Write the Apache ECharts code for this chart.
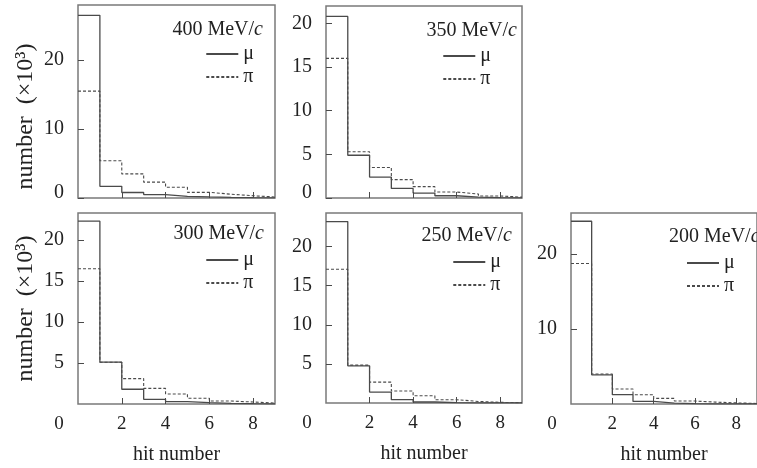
<!DOCTYPE html>
<html>
<head>
<meta charset="utf-8">
<script src="https://cdn.jsdelivr.net/npm/echarts@6/dist/echarts.min.js"></script>
<style>
  html, body { margin: 0; padding: 0; background: #fff; }
  #chart { width: 757px; height: 468px; }
</style>
</head>
<body>
<div id="chart"></div>
<script>
// counts (x10^3) per hit-number bin 0..8
const momenta = ["400", "350", "300", "250", "200"];
const mu400 = [26.5, 1.7, 0.8, 0.5, 0.25, 0.15, 0.08, 0.04, 0.02];
const pi400 = [15.5, 5.4, 3.5, 2.3, 1.55, 0.82, 0.55, 0.33, 0.15];
const mu350 = [20.8, 4.9, 2.4, 1.1, 0.57, 0.26, 0.11, 0.05, 0.02];
const pi350 = [16.0, 5.3, 3.5, 2.1, 1.3, 0.68, 0.46, 0.23, 0.1];
const mu300 = [22.3, 5.1, 1.8, 0.57, 0.28, 0.16, 0.08, 0.04, 0.02];
const pi300 = [16.5, 5.1, 3.1, 1.9, 1.22, 0.7, 0.37, 0.24, 0.12];
const mu250 = [23.2, 4.75, 1.4, 0.42, 0.13, 0.05, 0.02, 0.01, 0.01];
const pi250 = [17.1, 4.85, 2.67, 1.53, 0.93, 0.42, 0.2, 0.08, 0.04];
const mu200 = [24.4, 3.9, 1.24, 0.35, 0.13, 0.05, 0.03, 0.01, 0.01];
const pi200 = [18.75, 4.0, 2.0, 1.24, 0.75, 0.4, 0.25, 0.15, 0.07];

const xTicks = [2, 4, 6, 8];
const xLabels = [0, 2, 4, 6, 8];
const yTicks400 = [0, 10, 20];
const yTicks350 = [0, 5, 10, 15, 20];
const yTicks300 = [5, 10, 15, 20];
const yTicks250 = [5, 10, 15, 20];
const yTicks200 = [10, 20];

const FONT = "Liberation Serif";
const INK = "#222";
const LINE = "#4a4a4a";
const FRAME = "#7a7a7a";

// layout of each panel (px)
const panels = [
  { mu: mu400, pi: pi400, yTicks: yTicks400, yMax: 28, box: [78, 5, 197, 193], bottom: false, yName: true,
    title: { right: 489, top: 15 }, legend: { right: 503, top: 44 } },
  { mu: mu350, pi: pi350, yTicks: yTicks350, yMax: 22, box: [326, 6, 196, 192], bottom: false, yName: false,
    title: { right: 235, top: 16 }, legend: { right: 266, top: 46 } },
  { mu: mu300, pi: pi300, yTicks: yTicks300, yMax: 23.3, box: [78, 213, 197, 191], bottom: true, yName: true,
    title: { right: 488, top: 219 }, legend: { right: 503, top: 250 } },
  { mu: mu250, pi: pi250, yTicks: yTicks250, yMax: 24.3, box: [326, 213, 196, 190], bottom: true, yName: false,
    title: { right: 240, top: 221 }, legend: { right: 256, top: 252 } },
  { mu: mu200, pi: pi200, yTicks: yTicks200, yMax: 25.5, box: [571, 213, 198, 191], bottom: true, yName: false,
    title: { left: 664, top: 222 }, legend: { left: 686, top: 253 } }
];

function steps(vals) {
  const pts = vals.map((v, i) => [i, v]);
  pts.push([vals.length, vals[vals.length - 1]]);
  return pts;
}

const grid = [], xAxis = [], yAxis = [], series = [], title = [], legend = [];

panels.forEach((p, i) => {
  grid.push({
    left: p.box[0], top: p.box[1], width: p.box[2], height: p.box[3],
    show: true, borderColor: FRAME, borderWidth: 1.5, backgroundColor: "transparent"
  });
  xAxis.push({
    type: "value", gridIndex: i, min: 0, max: 9,
    axisLine: { show: false },
    axisTick: { show: true, inside: true, length: 6, customValues: xTicks, lineStyle: { color: LINE } },
    splitLine: { show: false },
    axisLabel: {
      show: p.bottom, customValues: xLabels, margin: 11,
      color: INK, fontFamily: FONT, fontSize: 19,
      formatter: v => (v === 0 ? "{z|0}" : String(v)),
      rich: { z: { fontFamily: FONT, fontSize: 19, color: INK, padding: [0, 38, 0, 0] } }
    },
    name: p.bottom ? "hit number" : "",
    nameLocation: "middle", nameGap: 41,
    nameTextStyle: { color: INK, fontFamily: FONT, fontSize: 20 }
  });
  yAxis.push({
    type: "value", gridIndex: i, min: 0, max: p.yMax,
    axisLine: { show: false },
    axisTick: { show: true, inside: true, length: 6, customValues: p.yTicks, lineStyle: { color: LINE } },
    splitLine: { show: false },
    axisLabel: {
      customValues: p.yTicks, margin: 14,
      color: INK, fontFamily: FONT, fontSize: 20,
      formatter: v => (v === 0 ? "{z|0}" : String(v)),
      rich: { z: { fontFamily: FONT, fontSize: 20, color: INK, padding: [0, 0, 10, 0] } }
    },
    name: p.yName ? "number  (×10³)" : "",
    nameLocation: "middle", nameGap: 40,
    nameTextStyle: {
      color: INK, fontFamily: FONT, fontSize: 24,
      padding: i === 0 ? [0, 30, 0, 0] : [0, 0, 0, 0]
    }
  });
  series.push({
    type: "line", name: "μ", xAxisIndex: i, yAxisIndex: i, step: "end",
    symbol: "none", silent: true, data: steps(p.mu),
    itemStyle: { color: LINE },
    lineStyle: { color: LINE, width: 1.3, type: "solid" }
  });
  series.push({
    type: "line", name: "π", xAxisIndex: i, yAxisIndex: i, step: "end",
    symbol: "none", silent: true, data: steps(p.pi),
    itemStyle: { color: LINE },
    lineStyle: { color: LINE, width: 1.1, type: [3, 2] }
  });
  title.push(Object.assign({
    text: "{a|" + momenta[i] + " MeV/}{b|c}",
    textStyle: {
      rich: {
        a: { fontFamily: FONT, fontSize: 20, color: INK, fontWeight: "normal" },
        b: { fontFamily: FONT, fontSize: 20, color: INK, fontWeight: "normal", fontStyle: "italic" }
      }
    }
  }, p.title));
  legend.push(Object.assign({
    orient: "vertical", data: ["μ", "π"], selectedMode: false,
    itemWidth: 32, itemHeight: 12, itemGap: 3, padding: 0,
    itemStyle: { opacity: 0 },
    textStyle: { fontFamily: FONT, fontSize: 20, color: INK, lineHeight: 20 }
  }, p.legend));
});

const chart = echarts.init(document.getElementById("chart"));
chart.setOption({
  animation: false,
  backgroundColor: "#fff",
  title, legend, grid, xAxis, yAxis, series
});
</script>
</body>
</html>
